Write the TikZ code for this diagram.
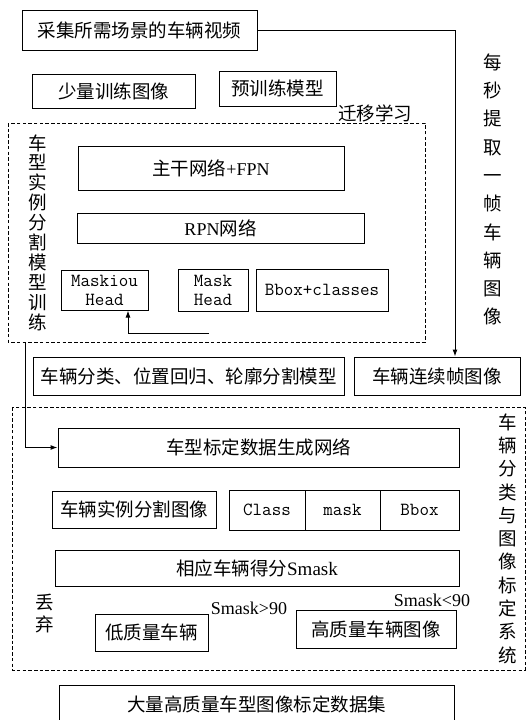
\documentclass[tikz,border=0pt]{standalone}
\usepackage{fontspec}
\setmainfont{Noto Sans CJK SC}
\newfontfamily\lat{Liberation Serif}
\usetikzlibrary{arrows.meta}
\newcommand\zh{\fontsize{18.5}{20}\selectfont}
\newcommand\ser[1]{{\lat #1}}
\tikzset{
  box/.style={draw, line width=1pt, inner sep=0pt, font=\zh, anchor=center},
  dbox/.style={draw, line width=0.8pt, dash pattern=on 3.5pt off 2.2pt},
  lbl/.style={inner sep=0pt, font=\zh, anchor=center},
  mono/.style={font=\fontsize{18.5}{19}\selectfont\ttfamily},
  arr/.style={line width=1pt, -{Latex[length=7pt,width=5pt]}},
}
\begin{document}
\begin{tikzpicture}[x=1pt,y=-1pt]
\useasboundingbox (0,0) rectangle (525,720);
% top part
\node[box, minimum width=235pt, minimum height=40pt] (src) at (139.5,30) {采集所需场景的车辆视频};
\node[box, minimum width=163pt, minimum height=34pt] (few) at (113.5,91) {少量训练图像};
\node[box, minimum width=117pt, minimum height=35pt] (pre) at (277.5,88.5) {预训练模型};
\node[lbl] (transfer) at (375,113) {迁移学习};
\draw[dbox] (8,123) rectangle (425,342);
\node[lbl, align=center, font=\fontsize{18.5}{19.9}\selectfont] (vt1) at (38,232.5) {车\\型\\实\\例\\分\\割\\模\\型\\训\\练};
\node[box, minimum width=266pt, minimum height=44pt] (fpn) at (211,168) {主干网络\ser{\fontsize{18}{20}\selectfont +FPN}};
\node[box, minimum width=287pt, minimum height=30pt] (rpn) at (220.5,228) {\ser{\fontsize{18}{20}\selectfont RPN}网络};
\node[box, mono, minimum width=87pt, minimum height=40pt, align=center] (miou) at (104.5,290) {Maskiou\\Head};
\node[box, mono, minimum width=70pt, minimum height=42pt, align=center] (mhead) at (213,290) {Mask\\Head};
\node[box, mono, minimum width=132pt, minimum height=42pt] (bbc) at (322,290) {Bbox+classes};
\coordinate (fb) at (209,333);
\draw[arr] (fb) -| ([xshift=23.5pt]miou.south);
% right column
\node[lbl, align=center, font=\fontsize{18.5}{28.3}\selectfont] (vt0) at (493,189.5) {每\\秒\\提\\取\\一\\帧\\车\\辆\\图\\像};
\node[box, minimum width=311pt, minimum height=38pt] (model) at (188.5,376) {车辆分类、位置回归、轮廓分割模型};
\node[box, minimum width=166pt, minimum height=38pt] (frames) at (437,376) {车辆连续帧图像};
\draw[arr] (src.east) -| ([xshift=18pt]frames.north);
% lower system
\draw[dbox] (12,407) rectangle (525,670);
\node[lbl, align=center, font=\fontsize{18.5}{23.3}\selectfont] (vt2) at (508,538.5) {车\\辆\\分\\类\\与\\图\\像\\标\\定\\系\\统};
\node[box, minimum width=401pt, minimum height=39pt] (gen) at (258.5,447.5) {车型标定数据生成网络};
\coordinate (d1) at (25,342);
\draw[arr] (d1) |- (gen.west);
\node[box, minimum width=164pt, minimum height=37pt] (seg) at (134,509.5) {车辆实例分割图像};
\node[box, mono, minimum width=76pt, minimum height=40pt] (cls) at (267,510) {Class};
\node[box, mono, minimum width=75pt, minimum height=40pt] (msk) at (342.5,510) {mask};
\node[box, mono, minimum width=79pt, minimum height=40pt] (bbx) at (419.5,510) {Bbox};
\node[box, minimum width=404pt, minimum height=36pt] (score) at (257,568) {相应车辆得分\ser{\fontsize{19}{20}\selectfont Smask}};
\node[lbl, align=center, font=\fontsize{18.5}{22}\selectfont] (discard) at (45,614) {丢\\弃};
\node[lbl, font=\lat\fontsize{18}{20}\selectfont] (gt) at (249,608) {Smask>90};
\node[lbl, font=\lat\fontsize{18}{20}\selectfont] (lt) at (432,600) {Smask<90};
\node[box, minimum width=113pt, minimum height=37pt] (low) at (151.5,632.5) {低质量车辆};
\node[box, minimum width=160pt, minimum height=38pt] (high) at (376,629) {高质量车辆图像};
\node[box, minimum width=395pt, minimum height=38pt] (big) at (256.5,704) {大量高质量车型图像标定数据集};
\end{tikzpicture}
\end{document}
